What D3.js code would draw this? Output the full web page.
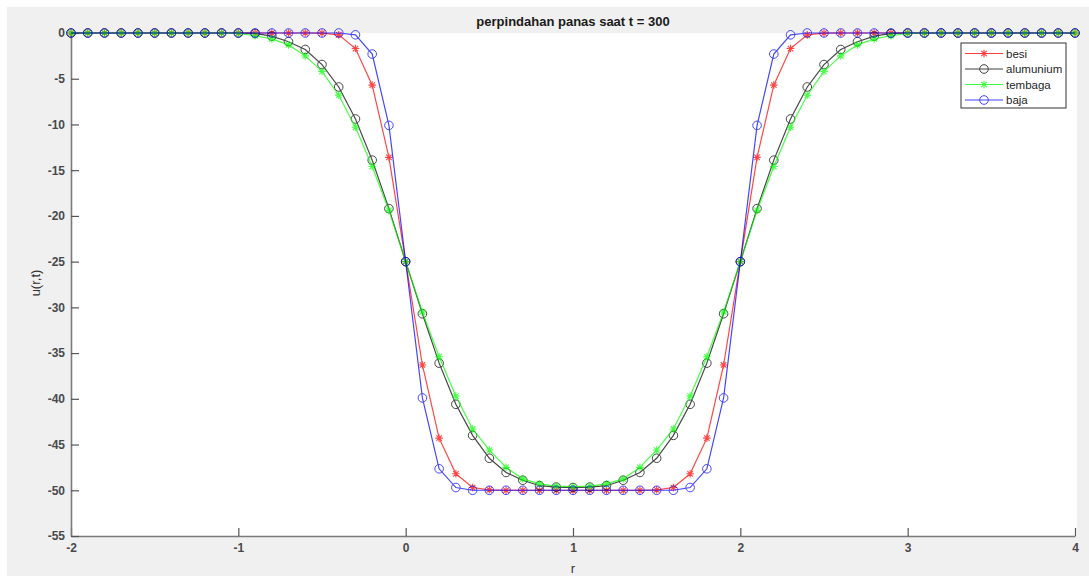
<!DOCTYPE html>
<html>
<head>
<meta charset="utf-8">
<script src="https://cdn.jsdelivr.net/npm/d3@7"></script>
<style>
  body { margin: 0; background: #fff; }
  text { font-family: "Liberation Sans", Arial, sans-serif; }
</style>
</head>
<body>
<svg id="chart" width="1089" height="576"></svg>
<script>
var rValues = d3.range(61).map(function(i) { return -2 + i / 10; });

var besi = [
    0, 0, 0, 0, 0, 0, 0, 0, 0, 0,
    0, 0, 0, 0, 0, -0.02, -0.2, -1.7, -5.7, -13.6,
    -25, -36.3, -44.3, -48.2, -49.7, -49.95, -50, -50, -50, -50,
    -50,
    -50, -50, -50, -50, -49.95, -49.7, -48.2, -44.3, -36.3, -25,
    -13.6, -5.7, -1.7, -0.2, -0.02, 0, 0, 0, 0, 0,
    0, 0, 0, 0, 0, 0, 0, 0, 0, 0
];
var alumunium = [
    0, 0, 0, 0, 0, 0, 0, 0, 0, 0,
    0, -0.05, -0.35, -0.95, -1.8, -3.45, -5.9, -9.4, -13.9, -19.2,
    -25, -30.7, -36.1, -40.6, -44.0, -46.5, -48.05, -48.9, -49.5, -49.65,
    -49.7,
    -49.65, -49.5, -48.9, -48.05, -46.5, -44.0, -40.6, -36.1, -30.7, -25,
    -19.2, -13.9, -9.4, -5.9, -3.45, -1.8, -0.95, -0.35, -0.05, 0,
    0, 0, 0, 0, 0, 0, 0, 0, 0, 0
];
var tembaga = [
    0, 0, 0, 0, 0, 0, 0, 0, 0, 0,
    -0.05, -0.3, -0.65, -1.3, -2.5, -4.2, -6.8, -10.3, -14.6, -19.4,
    -25, -30.5, -35.4, -39.7, -43.3, -45.6, -47.5, -48.75, -49.3, -49.55,
    -49.6,
    -49.55, -49.3, -48.75, -47.5, -45.6, -43.3, -39.7, -35.4, -30.5, -25,
    -19.4, -14.6, -10.3, -6.8, -4.2, -2.5, -1.3, -0.65, -0.3, -0.05,
    0, 0, 0, 0, 0, 0, 0, 0, 0, 0
];
var baja = [
    0, 0, 0, 0, 0, 0, 0, 0, 0, 0,
    0, 0, 0, 0, 0, 0, 0, -0.2, -2.3, -10.1,
    -25, -39.9, -47.65, -49.7, -50, -50, -50, -50, -50, -50,
    -50,
    -50, -50, -50, -50, -50, -50, -49.7, -47.65, -39.9, -25,
    -10.1, -2.3, -0.2, 0, 0, 0, 0, 0, 0, 0,
    0, 0, 0, 0, 0, 0, 0, 0, 0, 0
];

var seriesNames  = ['besi', 'alumunium', 'tembaga', 'baja'];
var seriesColors = ['#ff0000', '#000000', '#00ff00', '#0000ff'];
var seriesMarks  = ['star', 'circle', 'star', 'circle'];
var xTicks = [-2, -1, 0, 1, 2, 3, 4];
var yTicks = [0, -5, -10, -15, -20, -25, -30, -35, -40, -45, -50, -55];

var svg = d3.select('#chart'),
    plotLeft = 71, plotRight = 1075, plotTop = 33, plotBottom = 536;

// figure background
svg.append('rect').attr('x', 7).attr('y', 7).attr('width', 1082).attr('height', 569).attr('fill', '#f0f0f0');
svg.append('rect').attr('x', plotLeft).attr('y', plotTop)
    .attr('width', plotRight - plotLeft + 2).attr('height', plotBottom - plotTop).attr('fill', '#fff');

var x = d3.scaleLinear().domain([-2, 4]).range([plotLeft, plotRight]);
var y = d3.scaleLinear().domain([-55, 0]).range([plotBottom, plotTop]);
var fmt = function(d) { return String(d); };

var xAxis = svg.append('g')
    .attr('transform', 'translate(0,' + plotBottom + ')')
    .call(d3.axisBottom(x).tickValues(xTicks).tickFormat(fmt).tickSizeInner(-8).tickSizeOuter(0).tickPadding(10));
var yAxis = svg.append('g')
    .attr('transform', 'translate(' + plotLeft + ',0)')
    .call(d3.axisLeft(y).tickValues(yTicks).tickFormat(fmt).tickSizeInner(-8).tickSizeOuter(0).tickPadding(6));

[xAxis, yAxis].forEach(function(a) {
    a.select('.domain').attr('stroke', '#7a7a7a').attr('stroke-width', 1.6);
    a.selectAll('.tick line').attr('stroke', '#555').attr('stroke-width', 1.2);
    a.selectAll('.tick text')
        .attr('fill', '#4a4a4a')
        .style('font-size', '12px')
        .style('font-weight', 'bold')
        .style('font-family', '"Liberation Sans", Arial, sans-serif');
});
xAxis.selectAll('.tick text').attr('dy', '0.5em');

function drawMark(g, kind, color) {
    if (kind === 'circle') {
        g.append('circle').attr('r', 4.3).attr('fill', 'none').attr('stroke', color).attr('stroke-width', 1);
    } else {
        var s = 3.8, d = s * 0.72;
        g.append('path')
            .attr('d', 'M' + (-s) + ',0H' + s + 'M0,' + (-s) + 'V' + s +
                'M' + (-d) + ',' + (-d) + 'L' + d + ',' + d + 'M' + (-d) + ',' + d + 'L' + d + ',' + (-d))
            .attr('stroke', color).attr('stroke-width', 1.1).attr('fill', 'none');
    }
}

var allSeries = [besi, alumunium, tembaga, baja];
var line = d3.line().x(function(d, i) { return x(rValues[i]); }).y(function(d) { return y(d); });

allSeries.forEach(function(vals, k) {
    var g = svg.append('g').attr('opacity', 0.72);
    g.append('path').datum(vals).attr('d', line)
        .attr('fill', 'none').attr('stroke', seriesColors[k]).attr('stroke-width', 1.2);
    vals.forEach(function(v, i) {
        var m = g.append('g').attr('transform', 'translate(' + x(rValues[i]) + ',' + y(v) + ')');
        drawMark(m, seriesMarks[k], seriesColors[k]);
    });
});

// title and labels
svg.append('text').attr('x', 573).attr('y', 26).attr('text-anchor', 'middle')
    .style('font-size', '13px').style('font-weight', 'bold').attr('fill', '#1a1a1a')
    .text('perpindahan panas saat t = 300');
svg.append('text').attr('x', 573).attr('y', 573).attr('text-anchor', 'middle')
    .style('font-size', '13px').attr('fill', '#333').text('r');
svg.append('text').attr('transform', 'translate(40,283) rotate(-90)').attr('text-anchor', 'middle')
    .style('font-size', '13px').attr('fill', '#333').text('u(r,t)');

// legend
var legend = svg.append('g').attr('transform', 'translate(961,43)');
legend.append('rect').attr('width', 105).attr('height', 65)
    .attr('fill', '#fff').attr('stroke', '#333').attr('stroke-width', 1);
seriesNames.forEach(function(name, k) {
    var ly = 10.5 + k * 15.5;
    var g = legend.append('g').attr('opacity', 0.75);
    g.append('line').attr('x1', 4).attr('x2', 42).attr('y1', ly).attr('y2', ly)
        .attr('stroke', seriesColors[k]).attr('stroke-width', 1.2);
    drawMark(g.append('g').attr('transform', 'translate(23,' + ly + ')'), seriesMarks[k], seriesColors[k]);
    legend.append('text').attr('x', 45).attr('y', ly + 4)
        .style('font-size', '11.5px').attr('fill', '#262626').text(name);
});
</script>
</body>
</html>
